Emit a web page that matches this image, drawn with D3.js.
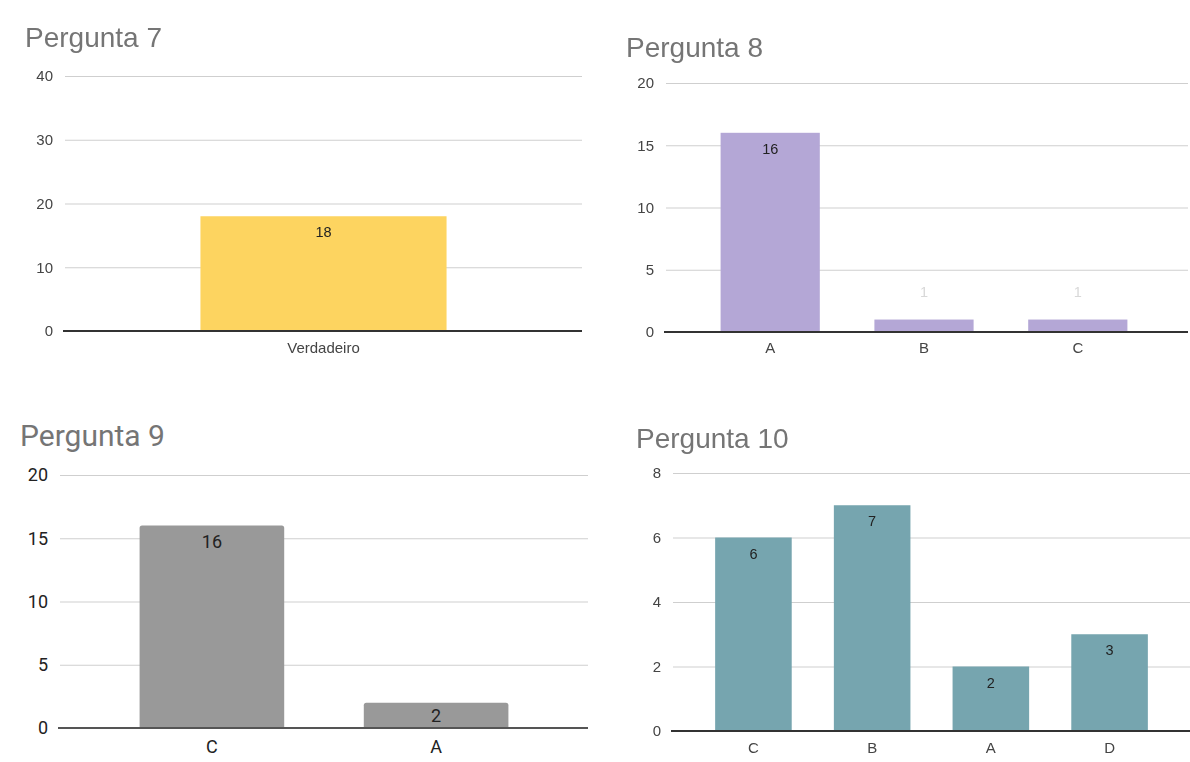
<!DOCTYPE html>
<html>
<head>
<meta charset="utf-8">
<script src="https://cdn.jsdelivr.net/npm/d3@7"></script>
<style>
  html, body { margin: 0; padding: 0; background: #fff; }
  svg { display: block; }
</style>
</head>
<body>
<svg id="chart" width="1190" height="762"></svg>
<script>
// ---- data ----
const titles = ["Pergunta 7", "Pergunta 8", "Pergunta 9", "Pergunta 10"];

const p7Categories = ["Verdadeiro"];
const p7Values = [18];
const p7Ticks = [0, 10, 20, 30, 40];

const p8Categories = ["A", "B", "C"];
const p8Values = [16, 1, 1];
const p8Ticks = [0, 5, 10, 15, 20];

const p9Categories = ["C", "A"];
const p9Values = [16, 2];
const p9Ticks = [0, 5, 10, 15, 20];

const p10Categories = ["C", "B", "A", "D"];
const p10Values = [6, 7, 2, 3];
const p10Ticks = [0, 2, 4, 6, 8];

// ---- layout / style of each panel ----
const ARIAL = "'Liberation Sans', Arial, sans-serif";
const ROBOTO = "Roboto, 'Liberation Sans', sans-serif";

const panels = [
  { title: titles[0], cats: p7Categories, vals: p7Values, ticks: p7Ticks,
    color: "#fdd460", font: ARIAL, titleX: 25, titleY: 47, titleSize: 28,
    gx: [65, 582], band: [65, 582], yr: [331, 76], xLabelY: 353,
    tickSize: 15, valSize: 14.5, catSize: 15, soft: true, faintSmall: false },
  { title: titles[1], cats: p8Categories, vals: p8Values, ticks: p8Ticks,
    color: "#b4a7d6", font: ARIAL, titleX: 626, titleY: 57, titleSize: 28,
    gx: [666, 1188], band: [666, 1182], yr: [332, 83], xLabelY: 353,
    tickSize: 15, valSize: 14.5, catSize: 15, soft: true, faintSmall: true },
  { title: titles[2], cats: p9Categories, vals: p9Values, ticks: p9Ticks,
    color: "#999999", font: ROBOTO, titleX: 20, titleY: 446, titleSize: 30,
    gx: [60, 588], band: [60, 588], yr: [728, 475], xLabelY: 753,
    tickSize: 18, valSize: 18, catSize: 18, soft: false, faintSmall: false, rounded: true },
  { title: titles[3], cats: p10Categories, vals: p10Values, ticks: p10Ticks,
    color: "#76a5af", font: ARIAL, titleX: 636, titleY: 448, titleSize: 28,
    gx: [673, 1190], band: [673, 1190], yr: [731, 473], xLabelY: 753,
    tickSize: 15, valSize: 14.5, catSize: 15, soft: true, faintSmall: false }
];

const svg = d3.select("#chart");

// slight softening used by the screen-captured panels
svg.append("defs").append("filter")
  .attr("id", "soft")
  .attr("x", "-5%").attr("y", "-5%").attr("width", "110%").attr("height", "110%")
  .append("feGaussianBlur").attr("stdDeviation", 0.55);

function topRoundedBar(x, y, w, h, r) {
  r = Math.min(r, h, w / 2);
  return `M${x},${y + h}V${y + r}Q${x},${y} ${x + r},${y}H${x + w - r}Q${x + w},${y} ${x + w},${y + r}V${y + h}Z`;
}

panels.forEach(p => {
  const g = svg.append("g");
  if (p.soft) g.attr("filter", "url(#soft)");

  const y = d3.scaleLinear()
    .domain([p.ticks[0], p.ticks[p.ticks.length - 1]])
    .range(p.yr);
  const x = d3.scaleBand()
    .domain(p.cats)
    .range(p.band)
    .padding(0.355);

  const dark = p.soft ? "#444" : "#222";

  // title
  g.append("text")
    .attr("x", p.titleX).attr("y", p.titleY)
    .attr("font-family", p.font).attr("font-size", p.titleSize)
    .attr("fill", "#757575")
    .text(p.title);

  // gridlines and value ticks
  const yAxis = g.append("g")
    .attr("transform", `translate(${p.gx[0]},0)`)
    .call(d3.axisLeft(y)
      .tickValues(p.ticks)
      .tickSize(-(p.gx[1] - p.gx[0]))
      .tickPadding(12)
      .tickFormat(d3.format("d")));
  yAxis.select(".domain").remove();
  yAxis.selectAll(".tick line").attr("stroke", "#cfcfcf").attr("stroke-width", 1);
  yAxis.selectAll(".tick text")
    .attr("font-family", p.font).attr("font-size", p.tickSize)
    .attr("fill", dark);

  // bars
  const bars = g.append("g");
  p.cats.forEach((c, i) => {
    const v = p.vals[i];
    const bx = x(c), bw = x.bandwidth();
    const by = y(v), bh = y(0) - y(v);
    if (p.rounded) {
      bars.append("path").attr("d", topRoundedBar(bx, by, bw, bh, 2.5)).attr("fill", p.color);
    } else {
      bars.append("rect").attr("x", bx).attr("y", by)
        .attr("width", bw).attr("height", bh).attr("fill", p.color);
    }
  });

  // baseline
  g.append("line")
    .attr("x1", p.gx[0] - 2).attr("x2", p.gx[1])
    .attr("y1", y(0)).attr("y2", y(0))
    .attr("stroke", p.soft ? "#333" : "#555").attr("stroke-width", 2);

  // value labels
  p.cats.forEach((c, i) => {
    const v = p.vals[i];
    const cx = x(c) + x.bandwidth() / 2;
    const top = y(v), h = y(0) - y(v);
    let cy, fill;
    if (h < 20 && p.faintSmall) {
      cy = top - 28;             // label above a very short bar
      fill = "#d8d8d8";
    } else {
      cy = top + Math.min(16, h / 2);
      fill = "#222";
    }
    g.append("text")
      .attr("x", cx).attr("y", cy)
      .attr("dy", "0.35em")
      .attr("text-anchor", "middle")
      .attr("font-family", p.font).attr("font-size", p.valSize)
      .attr("fill", fill)
      .text(v);
  });

  // category labels
  const xAxis = g.append("g")
    .attr("transform", `translate(0,${y(0)})`)
    .call(d3.axisBottom(x).tickSize(0).tickPadding(0));
  xAxis.select(".domain").remove();
  xAxis.selectAll(".tick text")
    .attr("y", p.xLabelY - y(0)).attr("dy", 0)
    .attr("font-family", p.font).attr("font-size", p.catSize)
    .attr("fill", dark);
});
</script>
</body>
</html>
